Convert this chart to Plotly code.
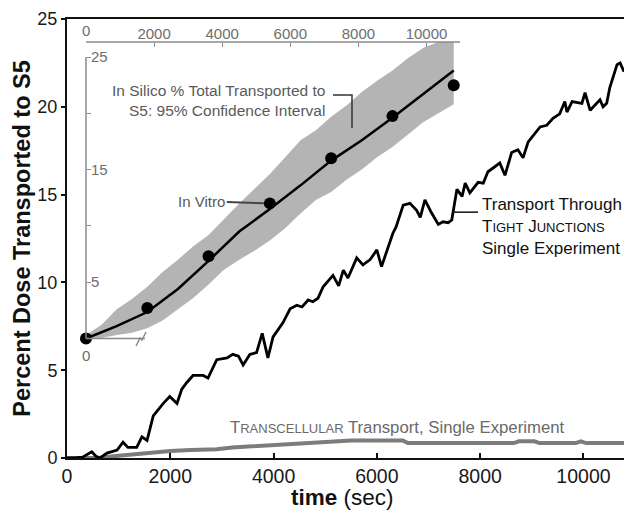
import plotly.graph_objects as go

# ---------------- data ----------------
# Main panel: tight-junction transport, single experiment
tj_time = [0, 150, 300, 480, 560, 640, 775, 970, 1085, 1180,
           1350, 1450, 1550, 1670, 1860, 1990, 2130, 2220, 2320, 2440,
           2640, 2730, 2900, 3100, 3210, 3320, 3410, 3540, 3670, 3780,
           3890, 3990, 4180, 4320, 4450, 4550, 4670, 4760, 4860, 4960,
           5150, 5260, 5350, 5440, 5610, 5730, 5870, 6000, 6090, 6200,
           6310, 6370, 6510, 6640, 6770, 6840, 6930, 7060, 7190, 7280,
           7380, 7450, 7550, 7650, 7710, 7800, 7960, 8060, 8150, 8290,
           8380, 8480, 8610, 8730, 8830, 8930, 9030, 9160, 9290, 9410,
           9540, 9640, 9680, 9780, 9970, 10030, 10130, 10220, 10320, 10380,
           10450, 10510, 10650, 10710, 10785]
tj_pct = [0, 0, 0.05, 0.35, 0.1, 0, 0.28, 0.45, 0.9, 0.6,
          0.6, 1.2, 1.0, 2.4, 3.1, 3.5, 3.1, 3.9, 4.3, 4.7,
          4.7, 4.55, 5.6, 5.7, 5.9, 5.8, 5.3, 5.9, 6.0, 7.1,
          5.7, 6.9, 7.7, 8.5, 8.7, 8.6, 9.0, 8.9, 9.1, 9.75,
          10.4, 9.8, 10.7, 10.25, 11.4, 11.0, 11.3, 11.85, 10.9, 11.85,
          12.8, 13.15, 14.4, 14.5, 14.1, 13.7, 14.7, 13.95, 13.3, 13.45,
          13.4, 13.55, 15.3, 14.9, 15.65, 15.1, 15.7, 15.65, 16.3, 16.6,
          16.8, 16.1, 17.4, 17.55, 17.1, 18.0, 18.4, 18.85, 18.95, 19.35,
          19.6, 20.3, 19.7, 20.3, 20.2, 20.8, 19.8, 20.1, 20.4, 20.0,
          20.2, 21.1, 22.4, 22.5, 22.0]

# Main panel: transcellular transport, single experiment
tc_time = [0, 600, 900, 1300, 1550, 2000, 2400, 2900, 3200, 3500, 3900, 4200,
           4400, 4800, 5500, 6500, 6600, 8650, 8750, 9050, 9150, 9850, 9950,
           10050, 10785]
tc_pct = [0, 0, 0.1, 0.2, 0.3, 0.4, 0.45, 0.5, 0.6, 0.65, 0.75, 0.8,
          0.85, 0.9, 1.0, 1.0, 0.85, 0.85, 0.95, 0.95, 0.85, 0.85, 0.95,
          0.85, 0.85]

# Inset: in silico mean and 95% confidence band
silico_time = [0, 900, 1800, 2700, 3600, 4500, 5400, 6300, 7200, 8100,
               9000, 9900, 10800]
silico_mean = [0, 1.1, 2.35, 4.4, 6.9, 9.5, 11.5, 13.6, 15.8, 17.6,
               19.6, 21.7, 23.8]
band_time = [0, 450, 900, 1350, 1800, 2250, 2700, 3150, 3600, 4050, 4500,
             4950, 5400, 5850, 6300, 6750, 7200, 7650, 8100, 8550, 9000,
             9450, 9900, 10350, 10800]
band_lower = [0, 0.05, 0.3, 0.5, 0.9, 1.6, 2.6, 3.6, 4.8, 6.1, 7.0,
              7.8, 8.7, 9.8, 11.1, 12.3, 13.0, 14.1, 15.0, 16.1, 17.0,
              18.1, 19.2, 20.0, 20.8]
band_upper = [0.3, 1.2, 2.6, 3.5, 4.6, 5.9, 7.0, 8.2, 9.2, 10.6, 12.0,
              13.3, 14.6, 16.1, 17.6, 18.5, 19.7, 20.7, 21.9, 22.9, 23.8,
              24.9, 25.8, 26.33, 26.33]

# Inset: in vitro measurements
vitro_time = [0, 1800, 3600, 5400, 7200, 9000, 10800]
vitro_pct = [0, 2.7, 7.3, 12.0, 16.0, 19.75, 22.5]

main_xticks = [0, 2000, 4000, 6000, 8000, 10000]
main_xticktext = ["0", "2000", "4000", "6000", "8000", "10000"]
main_yticks = [0, 5, 10, 15, 20, 25]
main_yticktext = ["0", "5", "10", "15", "20", "25"]
inset_xticks = [0, 2000, 4000, 6000, 8000, 10000]
inset_xticktext = ["0", "2000", "4000", "6000", "8000", "10000"]
inset_yticks = [0, 5, 10, 15, 20, 25]
inset_yticktext = ["", "5", "", "15", "", "25"]

# ---------------- layout helpers ----------------
W, H = 624, 512
L, R, T, B = 67, 0, 19, 54
PW, PH = W - L - R, H - T - B


def px_x(p):
    return (p - L) / PW


def px_y(p):
    return (H - B - p) / PH


FONT = "Liberation Sans, Arial, sans-serif"
INSET_GRAY = "#6e6e6e"
TEXT_GRAY = "#5a5a5a"

fig = go.Figure()

fig.add_trace(go.Scatter(x=tc_time, y=tc_pct, mode="lines",
                         line=dict(color="#7c7c7c", width=4),
                         xaxis="x", yaxis="y", showlegend=False, hoverinfo="skip"))
fig.add_trace(go.Scatter(x=tj_time, y=tj_pct, mode="lines",
                         line=dict(color="black", width=2.8),
                         xaxis="x", yaxis="y", showlegend=False))

fig.add_trace(go.Scatter(x=band_time + band_time[::-1],
                         y=band_upper + band_lower[::-1],
                         fill="toself", fillcolor="#b4b4b4", mode="lines",
                         line=dict(width=0, color="#b4b4b4"),
                         xaxis="x2", yaxis="y2", showlegend=False, hoverinfo="skip"))
fig.add_trace(go.Scatter(x=silico_time, y=silico_mean, mode="lines",
                         line=dict(color="black", width=2.5),
                         xaxis="x2", yaxis="y2", showlegend=False))
fig.add_trace(go.Scatter(x=vitro_time, y=vitro_pct, mode="markers",
                         marker=dict(color="black", size=12),
                         cliponaxis=False,
                         xaxis="x2", yaxis="y2", showlegend=False))

# inset axis scale (pixel anchors of the inset axes)
X2_ZERO, X2_SCALE = 86, 0.03405      # px of 0, px per second
Y2_ZERO, Y2_SCALE = 338.5, 11.26     # px of 0 %, px per %


def x2v(p):
    return (p - X2_ZERO) / X2_SCALE


def y2v(p):
    return (Y2_ZERO - p) / Y2_SCALE


fig.update_layout(
    width=W, height=H,
    margin=dict(l=L, r=R, t=T, b=B, autoexpand=False),
    paper_bgcolor="white", plot_bgcolor="rgba(0,0,0,0)",
    font=dict(family=FONT, color="#1a1a1a"),
    showlegend=False,
    xaxis=dict(
        domain=[0, 1], range=[0, 10785],
        showline=True, linecolor="#111", linewidth=2, mirror=True,
        ticks="inside", ticklen=5, tickwidth=1.5, tickcolor="#111",
        tickvals=main_xticks, ticktext=main_xticktext,
        tickfont=dict(size=19.5, color="#1a1a1a"),
        showgrid=False, zeroline=False,
    ),
    yaxis=dict(
        domain=[0, 1], range=[0, 25],
        showline=True, linecolor="#111", linewidth=2,
        ticks="outside", ticklen=4, tickwidth=1.5, tickcolor="#111",
        tickvals=main_yticks, ticktext=main_yticktext,
        tickfont=dict(size=18, color="#1a1a1a"),
        showgrid=False, zeroline=False,
        title=dict(text="<b>Percent Dose Transported to S5</b>",
                   font=dict(size=23.5, color="#111"), standoff=0),
    ),
    xaxis2=dict(
        domain=[px_x(76), px_x(480)], range=[x2v(76), x2v(480)],
        anchor="free", position=px_y(42), side="top",
        showline=False, ticks="inside", ticklen=4, tickwidth=1.2,
        tickcolor="#8a8a8a", tickvals=inset_xticks, ticktext=inset_xticktext,
        tickfont=dict(size=15, color=INSET_GRAY),
        showgrid=False, zeroline=False,
    ),
    yaxis2=dict(
        domain=[px_y(350), px_y(36)], range=[y2v(350), y2v(36)],
        anchor="free", position=px_x(86), side="left",
        showline=False, ticks="inside", ticklen=4, tickwidth=1.2,
        tickcolor="#8a8a8a", tickvals=inset_yticks, ticktext=inset_yticktext,
        ticklabelposition="inside",
        tickfont=dict(size=15, color=INSET_GRAY),
        showgrid=False, zeroline=False,
    ),
)

AX_GRAY = "#8a8a8a"
shapes = [
    # inset top axis line
    dict(type="line", xref="x2", yref="y2", x0=0, x1=x2v(460),
         y0=y2v(42), y1=y2v(42), line=dict(color=AX_GRAY, width=1.5)),
    # inset left axis line
    dict(type="line", xref="x2", yref="y2", x0=0, x1=0, y0=0, y1=25,
         line=dict(color=AX_GRAY, width=1.5)),
    # inset bottom stub with axis break
    dict(type="line", xref="x2", yref="y2", x0=0, x1=x2v(145), y0=0, y1=0,
         line=dict(color=AX_GRAY, width=1.5)),
    dict(type="path", xref="x2", yref="y2",
         path=f"M {x2v(136)},{y2v(346)} L {x2v(140)},{y2v(338)} "
              f"L {x2v(142)},{y2v(340)} L {x2v(146)},{y2v(332)}",
         line=dict(color=AX_GRAY, width=1.5)),
    # bracket for in-silico label
    dict(type="path", xref="x2", yref="y2",
         path=f"M {x2v(333)},{y2v(95)} L {x2v(352)},{y2v(95)} L {x2v(352)},{y2v(128)}",
         line=dict(color="#333", width=1.5)),
    # leader for tight-junction label
    dict(type="line", xref="x", yref="y",
         x0=(452 - L) / 0.05165, x1=(478 - L) / 0.05165, y0=14.0, y1=14.0,
         line=dict(color="#111", width=1.5)),
]
fig.update_layout(shapes=shapes)

annotations = [
    # x-axis title
    dict(text="<b>time</b> (sec)", xref="paper", yref="paper",
         x=px_x(342.5), y=px_y(497.5), xanchor="center", yanchor="middle",
         showarrow=False, font=dict(size=22.5, color="#111")),
    dict(text="In Silico % Total Transported to<br>S5: 95% Confidence Interval",
         xref="x2", yref="y2", x=x2v(327), y=y2v(101), xanchor="right",
         yanchor="middle", align="right", showarrow=False,
         font=dict(size=15.5, color=TEXT_GRAY)),
    dict(text="In Vitro", xref="x2", yref="y2", x=vitro_time[3], y=vitro_pct[3],
         ax=-68, ay=-2, showarrow=True, arrowhead=0, arrowwidth=2,
         arrowcolor="#444", standoff=6, font=dict(size=15, color=TEXT_GRAY)),
    # inset y-axis origin label and inset top-axis origin label
    dict(text="0", xref="x2", yref="y2", x=0, y=0, yshift=-17, showarrow=False,
         font=dict(size=15, color=INSET_GRAY)),
    dict(text="0", xref="x2", yref="paper", x=0, y=px_y(31), showarrow=False,
         yanchor="middle", font=dict(size=15, color=INSET_GRAY)),
    dict(text="Transport Through<br>T<span style='font-size:13px'>IGHT</span> "
              "J<span style='font-size:13px'>UNCTIONS</span><br>Single Experiment",
         xref="x", yref="y", x=(480 - L) / 0.05165, y=(H - B - 226) / 17.56,
         xanchor="left", yanchor="middle", align="left", showarrow=False,
         font=dict(size=17, color="#111")),
    dict(text="T<span style='font-size:13px'>RANSCELLULAR</span> Transport, Single Experiment",
         xref="x", yref="y", x=(228 - L) / 0.05165, y=(H - B - 427) / 17.56,
         xanchor="left", yanchor="middle", align="left", showarrow=False,
         font=dict(size=16.75, color="#6a6a6a")),
]
fig.update_layout(annotations=annotations)

fig.write_html("out.html")
